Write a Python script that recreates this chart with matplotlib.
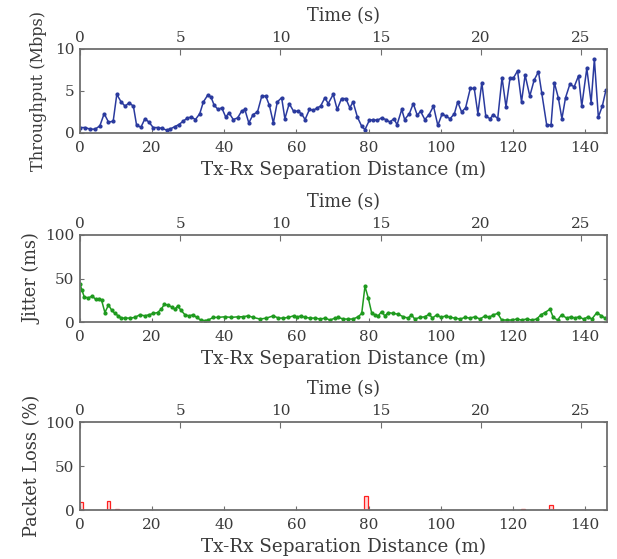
import matplotlib
matplotlib.use("Agg")
import matplotlib.pyplot as plt
import numpy as np

# ---- data ----
tp_dist = [0, 1.4, 2.8, 4.2, 5.5, 6.7, 7.9, 9.2, 10.2, 11.4, 12.5, 13.6, 14.8, 15.7, 16.9, 18, 19.1,
           20.3, 21.7, 22.8, 24, 24.9, 26.3, 27.4, 28.6, 29.8, 30.9, 32, 33.2, 34.2, 35.4, 36.3, 37.2,
           38.3, 39.3, 40.4, 41.3, 42.5, 43.7, 44.8, 45.7, 46.8, 48, 49.2, 50.4, 51.5, 52.5, 53.6,
           54.7, 55.9, 56.8, 58, 59.2, 60.3, 61.4, 62.4, 63.6, 64.7, 65.8, 66.7, 67.9, 68.8, 70.2,
           71.3, 72.5, 73.7, 74.8, 75.7, 76.9, 78.1, 79, 80.2, 81.3, 82.4, 83.6, 84.8, 85.9, 87,
           87.9, 89.2, 90, 91.3, 92.4, 93.5, 94.4, 95.6, 96.8, 98, 99.2, 100.4, 101.4, 102.6, 103.8,
           104.7, 105.8, 106.9, 108.2, 109.3, 110.3, 111.4, 112.5, 113.7, 114.6, 115.8, 117, 118.1,
           119.2, 120.1, 121.3, 122.4, 123.4, 124.7, 125.9, 127.1, 128, 129.4, 130.6, 131.5, 132.6,
           133.6, 134.6, 135.8, 137, 138.2, 139.1, 140.5, 141.7, 142.6, 143.7, 144.8, 145.8]
tp_mbps = [0.65, 0.65, 0.46, 0.46, 0.85, 2.3, 1.3, 1.4, 4.6, 3.7, 3.2, 3.6, 3.2, 0.9, 0.7, 1.7, 1.3,
           0.65, 0.65, 0.54, 0.35, 0.46, 0.77, 1.0, 1.4, 1.8, 1.9, 1.6, 2.3, 3.7, 4.5, 4.3, 3.3,
           2.8, 3.0, 1.9, 2.4, 1.6, 1.8, 2.6, 2.8, 1.2, 2.2, 2.5, 4.4, 4.4, 3.3, 1.2,
           3.7, 4.2, 1.7, 3.5, 2.6, 2.6, 2.3, 1.6, 2.8, 2.7, 3.0, 3.2, 4.2, 3.5, 4.6,
           2.8, 4.1, 4.1, 3.0, 3.7, 1.9, 0.8, 0.4, 1.5, 1.6, 1.5, 1.8, 1.6, 1.3, 1.7,
           1.0, 2.8, 1.6, 2.3, 3.5, 2.1, 2.6, 1.6, 2.2, 3.2, 0.9, 2.3, 2.0, 1.7, 2.3,
           3.7, 2.5, 3.0, 5.3, 5.3, 2.3, 6.0, 2.0, 1.7, 2.2, 1.7, 6.6, 3.1,
           6.5, 6.5, 7.4, 3.7, 6.9, 4.4, 6.3, 7.3, 4.8, 0.9, 1.0, 6.0, 4.2,
           1.7, 4.2, 5.8, 5.5, 6.8, 3.2, 7.7, 3.6, 8.8, 1.9, 3.2, 5.1]

jit_dist = [0, 0.5, 1.2, 2.3, 3.4, 4.4, 5.3, 6, 6.9, 7.9, 8.8, 9.7, 10.6, 11.5, 12.5, 13.9, 15.2,
            16.6, 18, 19.1, 20.3, 21.5, 22.5, 23.4, 24.3, 25.4, 26.3, 27.1, 28, 29.1, 30.2, 31.4,
            32.3, 33.5, 34.6, 35.6, 36.9, 38.3, 40.1, 42, 43.8, 45.2, 46.6, 48, 49.9, 51.7, 53.6,
            55, 56.4, 57.8, 59.2, 60.1, 61.2, 62.4, 63.8, 65.2, 66.6, 68, 69.3, 70.7, 71.6, 73,
            74.4, 75.7, 77.1, 78.1, 79, 79.9, 80.9, 81.8, 82.7, 83.6, 84.5, 85.5, 86.8, 88.2, 89.6,
            91, 91.9, 92.8, 94.2, 95.6, 96.8, 97.7, 98.9, 100.1, 101.4, 102.6, 104, 105.4, 106.7,
            108.1, 109.5, 110.9, 112.3, 113.4, 114.6, 115.8, 116.9, 118.3, 119.7, 121.1, 122.4,
            123.8, 125.2, 126.6, 127.8, 128.9, 130.3, 131.2, 132.4, 133.5, 134.9, 136.1, 137.2,
            138.3, 139.6, 140.9, 141.9, 143.3, 144.5, 145.6]
jit_ms = [43.6, 37, 28.6, 27.8, 29.7, 25.9, 27, 24.8, 10.9, 19.5, 13.5, 9.8, 7.1, 4.5, 4.5, 4.5, 5.3,
          8.3, 7.1, 8.3, 9.8, 10.9, 14.7, 20.3, 19.5, 17.3, 14.7, 18.4, 13.5, 8.3, 7.1, 8.3,
          5.3, 2.3, 1.5, 2.3, 5.3, 5.3, 6, 5.3, 6, 6, 7.1, 5.3, 3.4, 4.5, 7.1,
          4.5, 4.5, 5.3, 7.1, 5.3, 7.1, 5.3, 4.5, 4.5, 3.4, 4.5, 2.3, 4.5, 5.3, 3.4,
          3.4, 3.4, 6, 9.8, 41, 27.8, 9.8, 8.3, 7.1, 12, 7.1, 10.9, 9.8, 9, 6,
          4.5, 8.3, 3.4, 5.3, 6, 9, 4.5, 8.3, 5.3, 7.1, 5.3, 4.5, 3.4, 5.3,
          4.5, 6, 3.4, 7.1, 5.3, 8.3, 9.8, 2.3, 2.3, 2.3, 3.4, 2.3,
          3.4, 2.3, 3.4, 8.3, 10.9, 14.7, 5.3, 2.3, 8.3, 4.5, 6, 4.5,
          6, 3.4, 6, 3.4, 10.9, 7.1, 4.5]

loss_dist = [0.4, 7.9, 10.2, 79.3, 122.9, 130.7]
loss_pct = [8.7, 10.2, 1.1, 16.2, 1.1, 5.7]

dist_ticks = [0, 20, 40, 60, 80, 100, 120, 140]
time_ticks = [0, 5, 10, 15, 20, 25]
XMAX = 146.1
TMAX = 26.3

# ---- style ----
plt.rcParams['font.family'] = ['DejaVu Serif']
FS_TICK = 11
FS_LAB = 12.8
FRAME = '#6e6e6e'
TXT = '#3a3a3a'

fig = plt.figure(figsize=(6.17, 5.59), dpi=100)

W, H = 617, 559
def pos(top, bottom):
    return [80 / W, 1 - bottom / H, (607 - 80) / W, (bottom - top) / H]

panels = [
    (pos(49, 133), 'Throughput (Mbps)', [0, 5, 10], 10, 6, 11.6),
    (pos(235, 322), 'Jitter (ms)', [0, 50, 100], 100, 3, 12.8),
    (pos(422, 510), 'Packet Loss (%)', [0, 50, 100], 100, 3, 12.8),
]

axes = []
for i, (p, ylab, yt, ymax, ylp, yfs) in enumerate(panels):
    ax = fig.add_axes(p)
    ax.set_xlim(0, XMAX)
    ax.set_ylim(0, ymax)
    ax.set_xticks(dist_ticks)
    ax.set_yticks(yt)
    ax.tick_params(direction='in', length=3, width=0.8, color=FRAME, labelcolor=TXT,
                   labelsize=FS_TICK, top=True, right=True, pad=4)
    ax.tick_params(axis='x', pad=6)
    for s in ax.spines.values():
        s.set_color(FRAME)
        s.set_linewidth(1.3)
    ax.set_xlabel('Tx-Rx Separation Distance (m)', fontsize=13.2, color=TXT, labelpad=4)
    ax.set_ylabel(ylab, fontsize=yfs, color=TXT, labelpad=ylp)
    axt = ax.twiny()
    axt.set_xlim(0, TMAX)
    axt.set_xticks(time_ticks)
    axt.tick_params(direction='in', length=4, width=0.8, color=FRAME, labelcolor=TXT,
                    labelsize=FS_TICK, top=True, bottom=False, pad=3)
    for s in axt.spines.values():
        s.set_visible(False)
    axt.set_xlabel('Time (s)', fontsize=FS_LAB, color=TXT, labelpad=7)
    axes.append(ax)

axes[0].plot(tp_dist, tp_mbps, color='#2a3a9e', lw=1.1, marker='o', ms=2.0,
             mfc='#2a3a9e', mec='#2a3a9e', clip_on=True)
axes[1].plot(jit_dist, jit_ms, color='#1e9a1e', lw=1.1, marker='o', ms=2.0,
             mfc='#1e9a1e', mec='#1e9a1e')
axes[2].bar(loss_dist, loss_pct, width=1.1, facecolor='#ffd6d6', edgecolor='#ff2020',
            linewidth=0.9)

fig.savefig('out.png', dpi=100)
